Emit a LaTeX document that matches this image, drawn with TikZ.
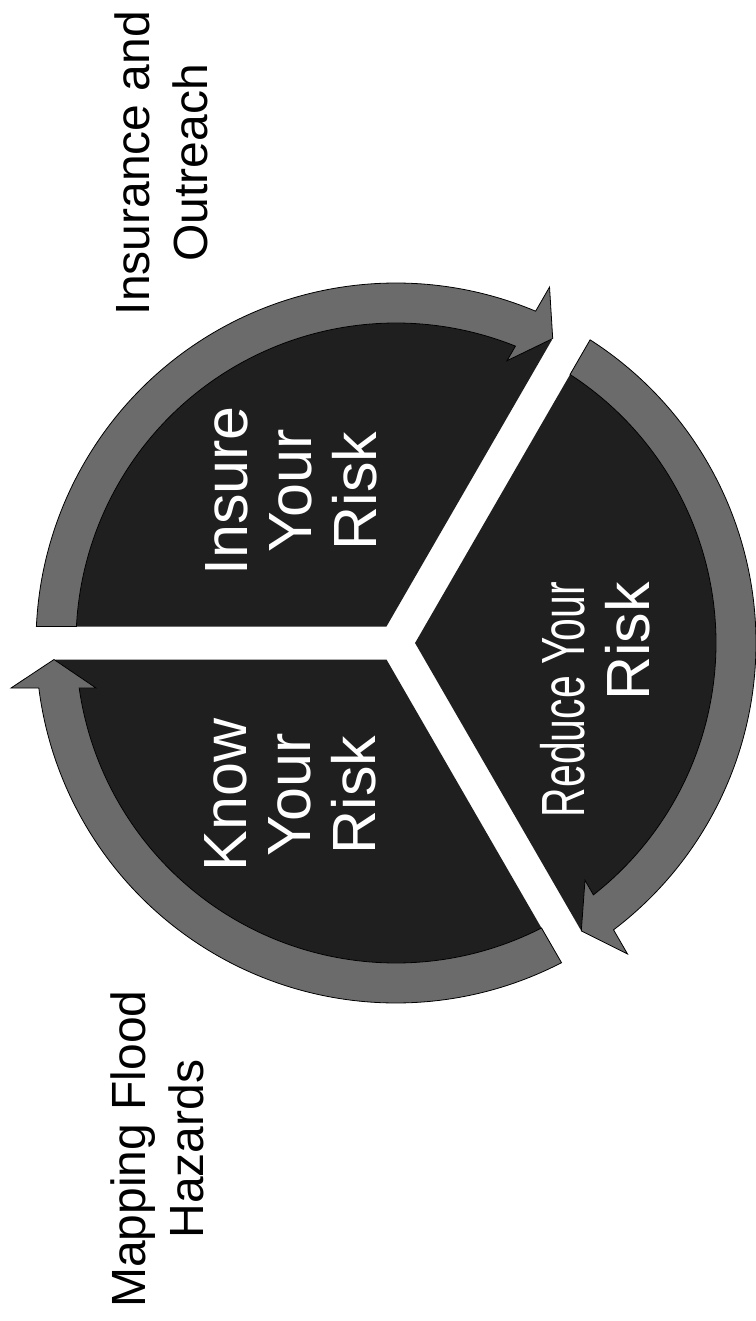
\documentclass[tikz,border=0pt]{standalone}
\usepackage{fontspec}
\setmainfont{Liberation Sans}
\definecolor{segdark}{gray}{0.12}
\definecolor{ringgray}{gray}{0.42}
\tikzset{
  segbody/.style={fill=segdark},
  ringarrow/.style={fill=ringgray, draw=black, line width=0.8pt, line join=miter},
  segtext/.style={text=white, align=center, rotate=90, inner sep=0pt, font=\fontsize{61}{64.5}\selectfont},
  sidelabel/.style={text=black, align=center, rotate=90, inner sep=0pt, font=\fontsize{48}{57.5}\selectfont},
}
\newcommand{\cyclesegment}[1]{%
  \begin{scope}[shift={(396,-643)}, rotate=#1]
    \fill[segbody] (9.53,16.5) -- (2.774:341) arc[start angle=2.774, end angle=117.226, radius=341] -- cycle;
    \filldraw[ringarrow] (300,45) -- (342,16.5) -- (385,45) -- (7.181:360)
      arc[start angle=7.181, end angle=117.373, radius=360] -- (117.045:320)
      arc[start angle=117.045, end angle=8.085, radius=320] -- cycle;
  \end{scope}}
\begin{document}
\begin{tikzpicture}[x=1pt,y=1pt]
  \useasboundingbox[fill=white] (0,-1321) rectangle (755,0);
  \cyclesegment{180}
  \cyclesegment{60}
  \cyclesegment{-60}
  \node[segtext] (know) at (290,-795) {Know\\Your\\Risk};
  \node[segtext] (insure) at (291,-491) {Insure\\Your\\Risk};
  \node[segtext, align=right, anchor=east] (reduce) at (595,-582) {\scalebox{0.67}[1]{Reduce Your}\\Risk};
  \node[sidelabel] (insout) at (161.5,-163) {Insurance and\\Outreach};
  \node[sidelabel] (mapping) at (157.5,-1149) {Mapping Flood\\Hazards};
\end{tikzpicture}
\end{document}
